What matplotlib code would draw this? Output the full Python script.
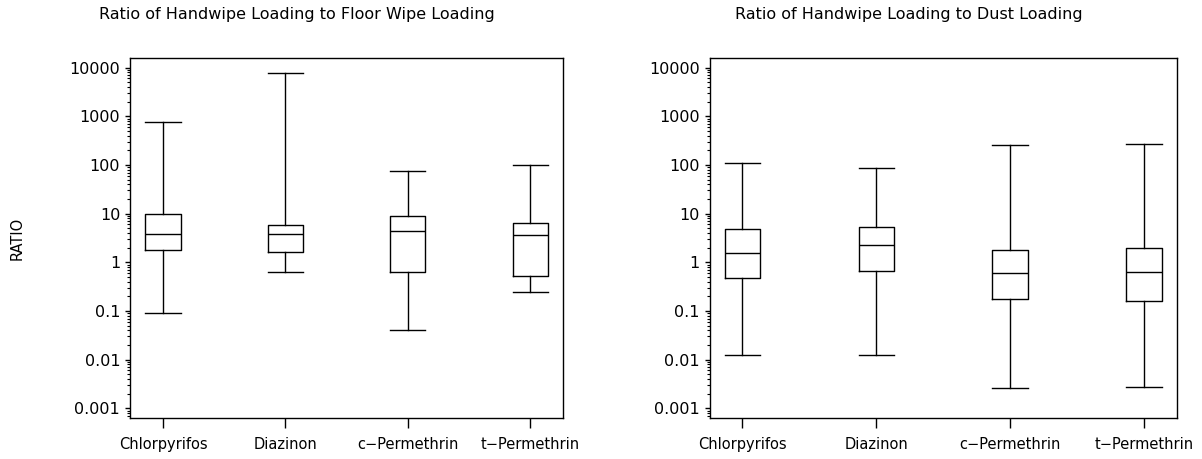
import numpy as np
import matplotlib.pyplot as plt
from matplotlib.ticker import FixedLocator, LogLocator, NullFormatter

categories = ['Chlorpyrifos', 'Diazinon', 'c\u2212Permethrin', 't\u2212Permethrin']

# handwipe / floor wipe loading ratios (whisker low, Q1, median, Q3, whisker high)
floor_lo = [0.091, 0.64, 0.040, 0.245]
floor_q1 = [1.79, 1.60, 0.64, 0.53]
floor_med = [3.85, 3.75, 4.4, 3.6]
floor_q3 = [9.9, 5.85, 8.8, 6.35]
floor_hi = [750, 7900, 76, 100]

# handwipe / dust loading ratios
dust_lo = [0.0123, 0.0123, 0.00261, 0.00278]
dust_q1 = [0.48, 0.66, 0.176, 0.16]
dust_med = [1.55, 2.3, 0.61, 0.62]
dust_q3 = [4.78, 5.4, 1.79, 2.0]
dust_hi = [108, 88, 258, 266]

ytick_vals = [0.001, 0.01, 0.1, 1, 10, 100, 1000, 10000]
ytick_labels = ['0.001', '0.01', '0.1', '1', '10', '100', '1000', '10000']

plt.rcParams['font.family'] = 'DejaVu Sans'

fig = plt.figure(figsize=(12.02, 4.59), dpi=100)
ax1 = fig.add_axes([130 / 1202, 1 - 417.7 / 459, 433.3 / 1202, 359.4 / 459])
ax2 = fig.add_axes([709.7 / 1202, 1 - 417.7 / 459, 467 / 1202, 359.4 / 459])


def draw_panel(ax, lo, q1, med, q3, hi, width, xlim):
    stats = []
    for i in range(len(categories)):
        stats.append(dict(whislo=lo[i], q1=q1[i], med=med[i], q3=q3[i],
                          whishi=hi[i], fliers=[], label=categories[i]))
    pos = np.arange(1, len(categories) + 1)
    lw = 1.0
    ax.bxp(stats, positions=pos, widths=width, capwidths=width,
           showfliers=False,
           boxprops=dict(color='black', linewidth=lw),
           whiskerprops=dict(color='black', linewidth=lw),
           capprops=dict(color='black', linewidth=lw),
           medianprops=dict(color='black', linewidth=lw))
    ax.set_yscale('log')
    ax.set_ylim(10 ** -3.193, 10 ** 4.193)
    ax.set_xlim(*xlim)
    ax.yaxis.set_major_locator(FixedLocator(ytick_vals))
    ax.set_yticklabels(ytick_labels)
    ax.yaxis.set_minor_locator(LogLocator(base=10, subs=np.arange(2, 10)))
    ax.yaxis.set_minor_formatter(NullFormatter())
    ax.set_xticks(pos)
    ax.set_xticklabels(categories)
    ax.tick_params(axis='y', which='major', direction='out', length=3.6,
                   width=1.0, pad=3.5, labelsize=11.5)
    ax.tick_params(axis='y', which='minor', direction='out', length=2.0,
                   width=0.8)
    ax.tick_params(axis='x', which='major', direction='out', length=7,
                   width=1.0, pad=7, labelsize=10.5)
    for s in ax.spines.values():
        s.set_linewidth(1.0)


draw_panel(ax1, floor_lo, floor_q1, floor_med, floor_q3, floor_hi,
           0.288, (0.730, 4.270))
draw_panel(ax2, dust_lo, dust_q1, dust_med, dust_q3, dust_hi,
           0.263, (0.757, 4.244))

ax1.set_ylabel('RATIO', fontsize=10.5, labelpad=32)

fig.text(297 / 1202, 1 - 14 / 459, 'Ratio of Handwipe Loading to Floor Wipe Loading',
         ha='center', va='center', fontsize=11.5)
fig.text(909 / 1202, 1 - 14 / 459, 'Ratio of Handwipe Loading to Dust Loading',
         ha='center', va='center', fontsize=11.5)

fig.savefig('out.png', dpi=100)
